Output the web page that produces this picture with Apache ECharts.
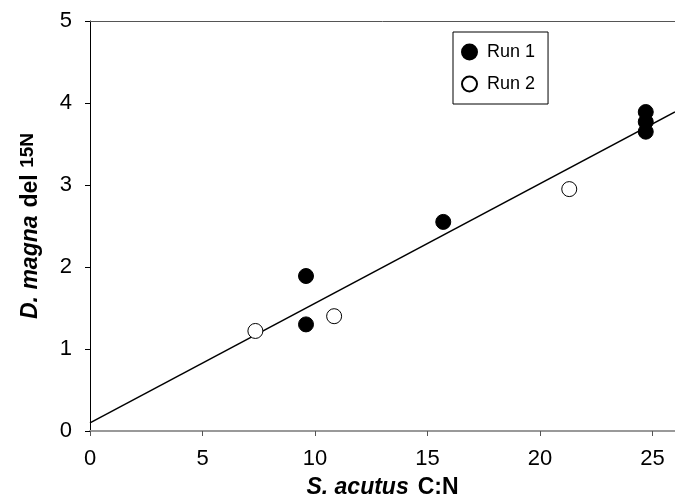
<!DOCTYPE html>
<html lang="en">
<head>
  <meta charset="UTF-8" />
  <title>D. magna vs S. acutus</title>
  <style>
    html, body { margin: 0; padding: 0; background: #fff; }
  </style>
</head>
<body>
  <div id="main" style="width: 675px; height: 504px;"></div>
  <script src="https://cdn.jsdelivr.net/npm/echarts@6/dist/echarts.min.js"></script>
  <script type="text/javascript">
    // Run 1 (filled), Run 2 (open)
    const run1X = [24.7, 24.7, 24.7, 15.7, 9.6, 9.6]
    const run1Y = [3.89, 3.77, 3.65, 2.55, 1.89, 1.30]
    const run2X = [7.35, 10.85, 21.3]
    const run2Y = [1.22, 1.40, 2.95]
    // regression line end points
    const fitX = [0, 26]
    const fitY = [0.10, 3.89]

    const zip = (xs, ys) => xs.map((x, i) => [x, ys[i]])

    const font = 'Liberation Sans, Arial, sans-serif'
    const myChart = echarts.init(document.getElementById('main'))

    const option = {
      animation: false,
      grid: { left: 90, right: 0, top: 21, bottom: 73 },
      legend: {
        orient: 'vertical',
        left: 453,
        top: 32,
        padding: [11, 13, 11, 8],
        itemGap: 14,
        itemWidth: 15,
        itemHeight: 15,
        borderColor: '#000',
        borderWidth: 1,
        borderRadius: 0,
        textStyle: { fontFamily: font, fontSize: 18, color: '#000', padding: [0, 0, 0, 5] },
        data: [
          { name: 'Run 1', icon: 'circle' },
          { name: 'Run 2', icon: 'circle' }
        ]
      },
      xAxis: [{
        type: 'value',
        min: 0,
        max: 26,
        interval: 5,
        name: '{i|S. acutus}{b|C:N}',
        nameLocation: 'middle',
        nameGap: 45,
        nameTextStyle: {
          rich: {
            i: { fontFamily: font, fontSize: 23, fontWeight: 'bold', fontStyle: 'italic', color: '#000' },
            b: { fontFamily: font, fontSize: 23, fontWeight: 'bold', color: '#000', padding: [0, 0, 0, 9] }
          }
        },
        splitLine: { show: false },
        axisLine: { lineStyle: { color: '#999', width: 2 } },
        axisTick: { length: 5, lineStyle: { color: '#555' } },
        axisLabel: { showMaxLabel: false, margin: 17, fontFamily: font, fontSize: 22, color: '#000' }
      }, {
        type: 'value',
        position: 'top',
        min: 0,
        max: 26,
        axisLine: { show: true, lineStyle: { color: '#555', width: 1 } },
        axisTick: { show: false },
        axisLabel: { show: false },
        splitLine: { show: false }
      }],
      yAxis: {
        type: 'value',
        min: 0,
        max: 5,
        interval: 1,
        name: '{i|D. magna}{b|del }{s|15N}',
        nameLocation: 'middle',
        nameGap: 46,
        nameTextStyle: {
          rich: {
            i: { fontFamily: font, fontSize: 23, fontWeight: 'bold', fontStyle: 'italic', color: '#000' },
            b: { fontFamily: font, fontSize: 23, fontWeight: 'bold', color: '#000', padding: [0, 0, 0, 8] },
            s: { fontFamily: font, fontSize: 19, fontWeight: 'bold', color: '#000', padding: [0, 0, 7, 0] }
          }
        },
        splitLine: { show: false },
        axisLine: { show: true, lineStyle: { color: '#000', width: 1 } },
        axisTick: { show: true, length: 5, lineStyle: { color: '#000' } },
        axisLabel: { margin: 18, fontFamily: font, fontSize: 22, color: '#000' }
      },
      series: [
        {
          name: 'fit',
          type: 'line',
          data: zip(fitX, fitY),
          showSymbol: false,
          symbol: 'none',
          lineStyle: { color: '#000', width: 1.5 },
          z: 1
        },
        {
          name: 'Run 1',
          type: 'scatter',
          data: zip(run1X, run1Y),
          symbol: 'circle',
          symbolSize: 15,
          itemStyle: { color: '#000', borderColor: '#000', borderWidth: 1, opacity: 1 },
          z: 3
        },
        {
          name: 'Run 2',
          type: 'scatter',
          data: zip(run2X, run2Y),
          symbol: 'circle',
          symbolSize: 15,
          itemStyle: { color: '#fff', borderColor: '#000', borderWidth: 1, opacity: 1 },
          z: 3
        }
      ]
    }

    myChart.setOption(option)
  </script>
</body>
</html>
